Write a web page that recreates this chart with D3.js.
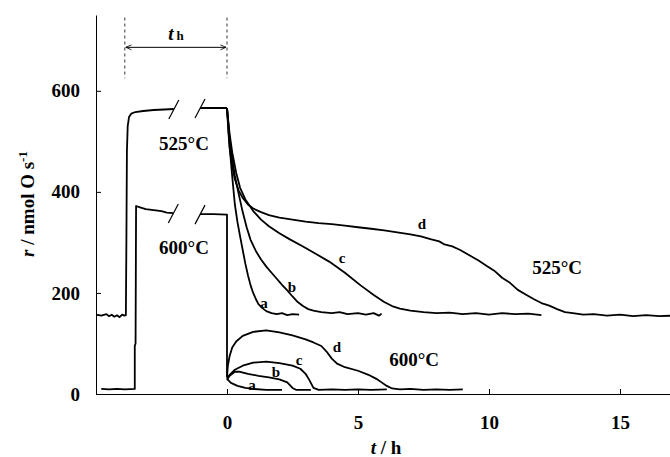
<!DOCTYPE html>
<html>
<head>
<meta charset="utf-8">
<script src="https://cdn.jsdelivr.net/npm/d3@7"></script>
<style>
  body { margin: 0; background: #fff; }
  svg text { font-family: "Liberation Serif", "Times New Roman", serif; font-weight: bold; fill: #000; }
</style>
</head>
<body>
<div id="chart"></div>
<script>
// pre-treatment part (null = axis break)
const pre525 = [[-5,157],[-4.8,155],[-4.6,158],[-4.5,154],[-4.4,157],[-4.3,153],[-4.2,156],[-4.1,152],[-4.0,157],[-3.92,155],[-3.86,156],
  [-3.84,300],[-3.82,480],[-3.79,530],[-3.74,548],[-3.65,555],[-3.5,558],[-3.2,560],[-2.8,562],[-2.4,563],[-2.03,564], null,
  [-1.03,566],[-0.6,566],[0,566]];
const pre600 = [[-4.8,10],[-4.5,9],[-4.2,10],[-3.9,9],[-3.52,10],[-3.52,95],[-3.49,100],[-3.47,372],[-3.35,370],[-3.1,366],
  [-2.8,364],[-2.5,362],[-2.3,359],[-2.05,358], null, [-1.03,356],[-0.5,356],[0,355],[0,33]];

// decay curves after t = 0, 525 °C
const d525a = [[0,566],[0.05,530],[0.1,490],[0.2,430],[0.3,375],[0.4,340],[0.5,312],[0.6,285],[0.7,258],[0.8,235],[0.9,215],
  [1.0,200],[1.1,188],[1.2,178],[1.35,170],[1.5,164],[1.7,160],[1.9,158],[2.1,160],[2.3,156],[2.5,158],[2.75,157]];
const d525b = [[0,566],[0.05,535],[0.1,505],[0.2,465],[0.3,432],[0.45,395],[0.6,360],[0.75,330],[0.9,305],[1.1,283],[1.3,266],
  [1.5,252],[1.7,240],[1.9,228],[2.1,216],[2.3,205],[2.5,193],[2.7,182],[2.9,174],[3.1,168],[3.3,165],[3.6,162],[4.0,160],
  [4.3,162],[4.6,158],[5.0,160],[5.3,157],[5.6,160],[5.8,155],[5.9,159]];
const d525c = [[0,566],[0.05,540],[0.1,515],[0.2,478],[0.35,438],[0.5,408],[0.7,385],[1.0,362],[1.3,345],[1.6,332],[2.0,318],
  [2.4,306],[2.9,292],[3.4,277],[3.9,262],[4.5,240],[5.1,215],[5.6,196],[6.0,182],[6.3,174],[6.6,169],[7.0,165],[7.5,162],
  [8.0,160],[8.5,161],[9.0,158],[9.5,160],[10.0,157],[10.5,160],[11.0,158],[11.5,159],[12.0,156]];
const d525d = [[0,566],[0.05,520],[0.1,488],[0.2,450],[0.3,425],[0.45,402],[0.6,388],[0.8,375],[1.0,367],[1.3,360],[1.6,354],
  [2.0,349],[2.5,345],[3.0,341],[3.5,338],[4.0,336],[4.5,333],[5.0,330],[5.5,327],[6.0,324],[6.5,320],[7.0,316],[7.4,312],
  [7.8,306],[8.1,302],[8.3,296],[8.6,292],[8.9,285],[9.2,276],[9.4,270],[9.6,264],[9.9,254],[10.2,244],[10.5,230],[10.8,220],
  [11.1,206],[11.4,197],[11.7,188],[12.0,180],[12.3,175],[12.6,168],[12.9,162],[13.2,160],[13.6,157],[14.0,158],[14.5,155],
  [15.0,157],[15.5,154],[16.0,156],[16.5,154],[17,155]];

// decay curves after t = 0, 600 °C
const d600a = [[0,30],[0.15,22],[0.4,16],[0.7,12],[1.0,10],[1.5,8],[2.1,8]];
const d600b = [[0,28],[0.1,36],[0.3,44],[0.5,44],[0.8,40],[1.2,36],[1.6,33],[2.0,29],[2.3,23],[2.5,12],[2.65,8],[3.2,8]];
const d600c = [[0,30],[0.1,38],[0.3,48],[0.6,56],[1.0,62],[1.5,64],[2.0,61],[2.5,56],[2.8,50],[3.0,40],[3.15,27],[3.3,12],
  [3.5,8],[4.0,9],[4.5,8],[5.0,9],[5.5,8],[6.1,9]];
const d600d = [[0,33],[0.03,55],[0.1,75],[0.2,92],[0.35,104],[0.6,115],[1.0,123],[1.5,126],[2.0,122],[2.5,116],[3.0,108],
  [3.3,102],[3.6,95],[3.8,84],[4.0,70],[4.2,60],[4.5,53],[5.0,46],[5.4,38],[5.7,30],[5.9,23],[6.1,16],[6.3,11],[6.6,9],
  [7.0,10],[7.5,8],[8.0,9],[8.5,8],[9.0,9]];

// axis break marks and heating time marks
const breakMarks = [[-2.03,564],[-1.03,566],[-2.05,358],[-1.03,356]];
const thMarks = [-3.9, 0];
const xTicks = [0, 5, 10, 15];
const yTicks = [0, 200, 400, 600];

// curve letters and temperature labels
const curveLabels = [
  {text:"a", t:1.41, r:181}, {text:"b", t:2.48, r:213}, {text:"c", t:4.39, r:270}, {text:"d", t:7.44, r:336},
  {text:"a", t:0.95, r:19}, {text:"b", t:1.87, r:45}, {text:"c", t:2.75, r:68}, {text:"d", t:4.2, r:94}
];
const tempLabels = [
  {text:"525°C", t:-1.64, r:496}, {text:"600°C", t:-1.64, r:290},
  {text:"525°C", t:12.6, r:250}, {text:"600°C", t:7.14, r:68}
];

let width = 670, height = 457;

const svg = d3.select("#chart")
  .append("svg")
  .attr("width", width)
  .attr("height", height);

let x = d3.scaleLinear().domain([-5, 17]).range([96, 672.4]);
let y = d3.scaleLinear().domain([0, 750]).range([394, 15]);

// axes, ticks inward
svg.append("g")
  .attr("transform", `translate(0,${y(0)})`)
  .call(d3.axisBottom(x).tickValues(xTicks).tickSize(-5).tickSizeOuter(0).tickPadding(22))
  .call(g => g.select(".domain").attr("stroke", "#000"))
  .call(g => g.selectAll("text").style("font-size", "19px"));

svg.append("g")
  .attr("transform", `translate(${x(-5)},0)`)
  .call(d3.axisLeft(y).tickValues(yTicks).tickSize(-5).tickSizeOuter(0).tickPadding(16))
  .call(g => g.select(".domain").attr("stroke", "#000"))
  .call(g => g.selectAll("text").style("font-size", "19px"));

// axis titles
let xt = svg.append("text")
  .attr("x", 386).attr("y", 454)
  .attr("text-anchor", "middle")
  .style("font-size", "19px");
xt.append("tspan").style("font-style", "italic").text("t");
xt.append("tspan").text(" / h");

let yt = svg.append("text")
  .attr("transform", "translate(34,204) rotate(-90)")
  .attr("text-anchor", "middle")
  .style("font-size", "19px");
yt.append("tspan").style("font-style", "italic").text("r");
yt.append("tspan").text(" / nmol O s");
yt.append("tspan").attr("dy", -7).style("font-size", "13px").text("-1");

// curves
const line = d3.line()
  .defined(d => d !== null)
  .x(d => x(d[0]))
  .y(d => y(d[1]));

const curves = [pre525, pre600, d525a, d525b, d525c, d525d, d600a, d600b, d600c, d600d];
svg.append("g")
  .selectAll("path")
  .data(curves)
  .join("path")
  .attr("d", line)
  .attr("fill", "none")
  .attr("stroke", "#000")
  .attr("stroke-width", 1.8)
  .attr("stroke-linejoin", "round");

// break marks
svg.append("g")
  .selectAll("line")
  .data(breakMarks)
  .join("line")
  .attr("x1", d => x(d[0]) - 5)
  .attr("y1", d => y(d[1]) + 10)
  .attr("x2", d => x(d[0]) + 5)
  .attr("y2", d => y(d[1]) - 9)
  .attr("stroke", "#000")
  .attr("stroke-width", 1.2);

// heating time t_h
svg.append("g")
  .selectAll("line")
  .data(thMarks)
  .join("line")
  .attr("x1", d => x(d)).attr("x2", d => x(d))
  .attr("y1", y(745)).attr("y2", y(625))
  .attr("stroke", "#333")
  .attr("stroke-dasharray", "3,3");

svg.append("defs").append("marker")
  .attr("id", "arr")
  .attr("viewBox", "0 0 10 10")
  .attr("refX", 9).attr("refY", 5)
  .attr("markerWidth", 7).attr("markerHeight", 7)
  .attr("orient", "auto-start-reverse")
  .append("path")
  .attr("d", "M1,1.5 L9,5 L1,8.5")
  .attr("fill", "none")
  .attr("stroke", "#000")
  .attr("stroke-width", 1.2);

svg.append("line")
  .attr("x1", x(thMarks[0]) + 1).attr("x2", x(thMarks[1]) - 1)
  .attr("y1", y(686)).attr("y2", y(686))
  .attr("stroke", "#000")
  .attr("marker-start", "url(#arr)")
  .attr("marker-end", "url(#arr)");

let th = svg.append("text")
  .attr("x", x(-1.95)).attr("y", y(700))
  .attr("text-anchor", "middle")
  .style("font-size", "19px");
th.append("tspan").style("font-style", "italic").text("t");
th.append("tspan").attr("dx", 3).style("font-size", "13px").text("h");

// labels
svg.append("g")
  .selectAll("text")
  .data(curveLabels)
  .join("text")
  .attr("x", d => x(d.t))
  .attr("y", d => y(d.r))
  .attr("dy", "0.35em")
  .attr("text-anchor", "middle")
  .style("font-size", "15px")
  .text(d => d.text);

svg.append("g")
  .selectAll("text")
  .data(tempLabels)
  .join("text")
  .attr("x", d => x(d.t))
  .attr("y", d => y(d.r))
  .attr("dy", "0.35em")
  .attr("text-anchor", "middle")
  .style("font-size", "19px")
  .text(d => d.text);
</script>
</body>
</html>
